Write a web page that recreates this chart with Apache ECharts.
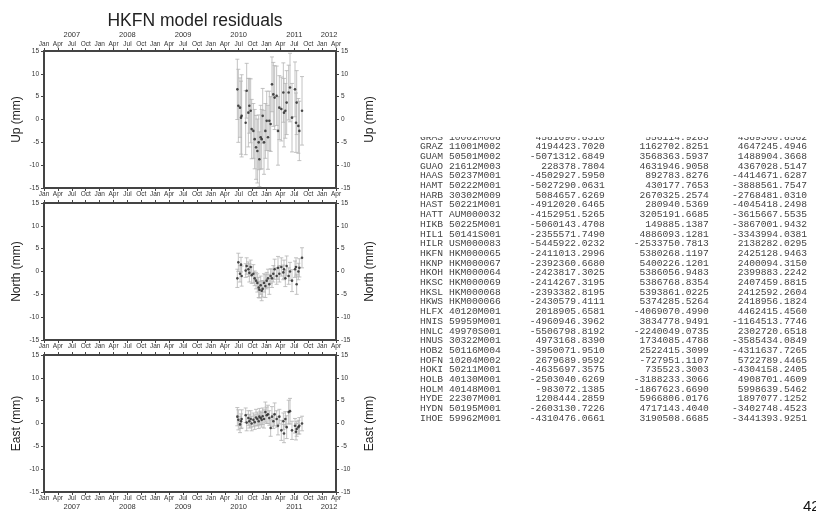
<!DOCTYPE html>
<html>
<head>
<meta charset="utf-8">
<script src="https://cdn.jsdelivr.net/npm/echarts@6/dist/echarts.min.js"></script>
<style>
  html, body { margin: 0; background: #fff; }
  #main { width: 816px; height: 512px; }
</style>
</head>
<body>
<div id="main"></div>
<script>
// epochs in decimal years
const epochs = [2010.476, 2010.494, 2010.524, 2010.542, 2010.554, 2010.626, 2010.644, 2010.674,
  2010.692, 2010.716, 2010.734, 2010.764, 2010.788, 2010.812, 2010.836, 2010.860, 2010.872,
  2010.896, 2010.914, 2010.932, 2010.956, 2010.980, 2011.004, 2011.027, 2011.051, 2011.075,
  2011.099, 2011.123, 2011.147, 2011.183, 2011.207, 2011.231, 2011.267, 2011.303, 2011.315,
  2011.339, 2011.363, 2011.399, 2011.423, 2011.459, 2011.513, 2011.531, 2011.543, 2011.573,
  2011.591, 2011.639];

const upVals = [6.6, 3.0, 2.6, 0.4, 0.8, -0.7, 6.3, 1.5, 3.0, 1.9, -2.1, -2.5, -4.3, -6.1, -6.9,
  -5.0, -8.7, -3.9, -4.3, 0.8, -5.0, -2.5, -0.3, -3.9, -0.3, -1.0, 7.7, 5.5, 4.8, 5.2, -2.5,
  2.6, 2.3, 5.9, 1.5, 1.9, 3.7, 5.9, 7.0, 0.4, 6.6, -0.7, 3.7, -1.4, -2.5, 1.9];
const upErr = [6.6, 8.0, 6.5, 8.0, 9.0, 7.0, 6.0, 7.5, 6.0, 7.0, 6.5, 6.0, 6.5, 7.0, 7.0, 6.0,
  6.0, 7.0, 6.5, 6.0, 7.0, 6.0, 6.5, 7.0, 6.5, 6.0, 6.0, 7.0, 7.0, 6.5, 7.5, 7.0, 7.0, 6.5,
  7.5, 6.0, 7.0, 6.0, 7.5, 7.5, 6.0, 6.5, 7.0, 6.0, 6.5, 7.5];

const northVals = [-1.5, 2.0, -0.5, 1.5, -1.0, 0.2, 1.2, 0.5, -0.3, 1.0, -0.8, -0.5, -1.5, -2.0,
  -2.5, -3.5, -4.0, -3.0, -4.2, -3.8, -2.5, -3.2, -2.0, -1.5, -2.8, -1.0, -1.5, -0.5, 0.5, -1.0,
  0.8, -0.5, 1.0, -0.2, 0.5, -1.5, 1.2, -1.0, 0.0, -2.0, 0.5, 1.0, -2.8, 0.0, 0.8, 3.0];
const northErr = [2.0, 2.0, 1.8, 1.6, 2.2, 1.5, 1.8, 1.6, 2.0, 1.5, 1.8, 2.0, 1.6, 1.8, 2.0, 2.2,
  1.8, 2.0, 2.2, 1.8, 2.0, 2.5, 1.8, 2.0, 2.2, 1.6, 2.0, 1.8, 2.2, 1.8, 2.5, 1.8, 2.0, 1.6, 2.0,
  1.8, 2.2, 1.8, 2.0, 2.4, 1.8, 2.0, 2.2, 1.8, 2.0, 2.2];

const eastVals = [1.5, 0.8, -0.2, 0.5, 1.0, 1.8, 0.2, 1.2, 0.5, 1.0, 0.0, 0.8, 0.3, 1.3, 1.0, 0.5,
  1.5, 1.2, 0.8, 1.6, 1.0, 2.5, 1.8, 2.0, 1.2, -1.0, 1.5, 0.5, 2.0, 1.0, -0.5, 1.5, -1.5, 0.5,
  -2.2, 1.0, -0.8, 2.5, 2.7, -1.5, -0.5, -1.8, -1.2, -0.8, -0.5, 0.0];
const eastErr = [2.0, 2.2, 1.8, 1.6, 2.0, 1.6, 1.8, 1.6, 1.5, 1.8, 1.6, 1.5, 1.6, 1.8, 1.5, 1.6,
  1.8, 1.5, 1.6, 1.8, 2.0, 2.2, 1.8, 2.0, 1.6, 1.8, 2.2, 1.6, 2.5, 1.8, 2.0, 1.6, 2.2, 1.8, 2.0,
  1.6, 2.5, 2.6, 2.8, 2.0, 1.6, 1.8, 1.6, 1.5, 1.8, 1.6];

const monthNames = ['Jan', 'Apr', 'Jul', 'Oct'];
const yTicks = [-15, 15, 5]; // min, max, step
const compNames = ['Up (mm)', 'North (mm)', 'East (mm)'];

// station table (name, DOMES, X, Y, Z)
const stations = [
  ['GRAS', '10002M006', '4581690.8310', '556114.9283', '4389360.8562'],
  ['GRAZ', '11001M002', '4194423.7020', '1162702.8251', '4647245.4946'],
  ['GUAM', '50501M002', '-5071312.6849', '3568363.5937', '1488904.3668'],
  ['GUAO', '21612M003', '228378.7804', '4631946.9058', '4367028.5147'],
  ['HAAS', '50237M001', '-4502927.5950', '892783.8276', '-4414671.6287'],
  ['HAMT', '50222M001', '-5027290.0631', '430177.7653', '-3888561.7547'],
  ['HARB', '30302M009', '5084657.6269', '2670325.2574', '-2768481.0310'],
  ['HAST', '50221M001', '-4912020.6465', '280940.5369', '-4045418.2498'],
  ['HATT', 'AUM000032', '-4152951.5265', '3205191.6685', '-3615667.5535'],
  ['HIKB', '50225M001', '-5060143.4708', '149885.1387', '-3867001.9432'],
  ['HIL1', '50141S001', '-2355571.7490', '4886093.1281', '-3343994.0381'],
  ['HILR', 'USM000083', '-5445922.0232', '-2533750.7813', '2138282.0295'],
  ['HKFN', 'HKM000065', '-2411013.2996', '5380268.1197', '2425128.9463'],
  ['HKNP', 'HKM000067', '-2392360.6680', '5400226.1201', '2400094.3150'],
  ['HKOH', 'HKM000064', '-2423817.3025', '5386056.9483', '2399883.2242'],
  ['HKSC', 'HKM000069', '-2414267.3195', '5386768.8354', '2407459.8815'],
  ['HKSL', 'HKM000068', '-2393382.8195', '5393861.0225', '2412592.2604'],
  ['HKWS', 'HKM000066', '-2430579.4111', '5374285.5264', '2418956.1824'],
  ['HLFX', '40120M001', '2018905.6581', '-4069070.4990', '4462415.4560'],
  ['HNIS', '59959M001', '-4960946.3962', '3834778.9491', '-1164513.7746'],
  ['HNLC', '49970S001', '-5506798.8192', '-2240049.0735', '2302720.6518'],
  ['HNUS', '30322M001', '4973168.8390', '1734085.4788', '-3585434.0849'],
  ['HOB2', '50116M004', '-3950071.9510', '2522415.3099', '-4311637.7265'],
  ['HOFN', '10204M002', '2679689.9592', '-727951.1107', '5722789.4465'],
  ['HOKI', '50211M001', '-4635697.3575', '735523.3003', '-4304158.2405'],
  ['HOLB', '40130M001', '-2503040.6269', '-3188233.3066', '4908701.4609'],
  ['HOLM', '40148M001', '-983072.1385', '-1867623.6690', '5998639.5462'],
  ['HYDE', '22307M001', '1208444.2859', '5966806.0176', '1897077.1252'],
  ['HYDN', '50195M001', '-2603130.7226', '4717143.4040', '-3402748.4523'],
  ['IHOE', '59962M001', '-4310476.0661', '3190508.6685', '-3441393.9251']
];

const chart = echarts.init(document.getElementById('main'));

const FONT = 'Liberation Sans, Arial, sans-serif';
const AXIS_COLOR = '#444';
const X_MIN = 2007, X_MAX = 2012.25;
const gridTops = [51, 203, 355];
const gridH = 137;

const monthFmt = v => monthNames[Math.round(v * 4) % 4];
const yearFmt = v => {
  const k = Math.round(v * 8), yr = Math.floor(k / 8), r = k % 8;
  if (yr < 2012 && r === 4) return String(yr);
  if (yr === 2012 && r === 1) return '2012';
  return '';
};

function xAxis(grid, pos, opts) {
  return Object.assign({
    type: 'value', gridIndex: grid, position: pos,
    min: X_MIN, max: X_MAX, interval: 0.25,
    axisLine: { onZero: false, lineStyle: { color: AXIS_COLOR, width: 2 } },
    axisTick: { show: true, length: 3, lineStyle: { color: AXIS_COLOR } },
    axisLabel: { show: true, formatter: monthFmt, fontSize: 6.5, color: '#333', margin: 3, fontFamily: FONT },
    splitLine: { show: false }
  }, opts);
}
function yearAxis(grid, pos, offset) {
  return {
    type: 'value', gridIndex: grid, position: pos, offset: offset,
    min: X_MIN, max: X_MAX, interval: 0.125,
    axisLine: { show: false }, axisTick: { show: false }, splitLine: { show: false },
    axisLabel: { formatter: yearFmt, fontSize: 7.5, color: '#333', margin: 3, fontFamily: FONT,
      showMinLabel: true, showMaxLabel: true }
  };
}

const xAxes = [
  xAxis(0, 'bottom'),                                   // 0: data axis grid 0
  xAxis(0, 'top'),                                      // 1
  yearAxis(0, 'top', 9),                                // 2
  xAxis(1, 'bottom'),                                   // 3: data axis grid 1
  xAxis(1, 'top', { axisLabel: { show: false } }),      // 4
  xAxis(2, 'bottom'),                                   // 5: data axis grid 2
  xAxis(2, 'top', { axisLabel: { show: false } }),      // 6
  yearAxis(2, 'bottom', 8)                              // 7
];
const dataX = [0, 3, 5];

const yAxes = [];
[0, 1, 2].forEach(g => {
  ['left', 'right'].forEach(pos => {
    yAxes.push({
      type: 'value', gridIndex: g, position: pos,
      min: yTicks[0], max: yTicks[1], interval: yTicks[2],
      name: compNames[g], nameLocation: 'middle', nameGap: pos === 'left' ? 21 : 28,
      nameTextStyle: { fontSize: 12, color: '#222', fontFamily: FONT },
      axisLine: { show: true, onZero: false, lineStyle: { color: AXIS_COLOR, width: 2 } },
      axisTick: { show: true, length: 3, lineStyle: { color: AXIS_COLOR } },
      axisLabel: { fontSize: 6.5, color: '#333', margin: 5, fontFamily: FONT },
      splitLine: { show: false }
    });
  });
});

function errorSeries(g, vals, errs) {
  return {
    type: 'custom', xAxisIndex: dataX[g], yAxisIndex: g * 2, silent: true, z: 2,
    data: epochs.map((t, i) => [t, vals[i] - errs[i], vals[i] + errs[i]]),
    encode: { x: 0, y: [1, 2] },
    renderItem: (params, api) => {
      const lo = api.coord([api.value(0), api.value(1)]);
      const hi = api.coord([api.value(0), api.value(2)]);
      const w = 2, st = { stroke: '#b4b4b4', lineWidth: 0.8 };
      return {
        type: 'group', children: [
          { type: 'line', shape: { x1: lo[0], y1: lo[1], x2: hi[0], y2: hi[1] }, style: st },
          { type: 'line', shape: { x1: lo[0] - w, y1: lo[1], x2: lo[0] + w, y2: lo[1] }, style: st },
          { type: 'line', shape: { x1: hi[0] - w, y1: hi[1], x2: hi[0] + w, y2: hi[1] }, style: st }
        ]
      };
    }
  };
}
function pointSeries(g, vals) {
  return {
    type: 'scatter', xAxisIndex: dataX[g], yAxisIndex: g * 2, silent: true, z: 3,
    symbol: 'circle', symbolSize: 2.6,
    itemStyle: { color: '#222' },
    data: epochs.map((t, i) => [t, vals[i]])
  };
}

const pad = (s, n) => s.padStart(n, ' ');
const tableText = stations.map(r => r[0] + ' ' + r[1] + pad(r[2], 18) + pad(r[3], 18) + pad(r[4], 17)).join('\n');

chart.setOption({
  animation: false,
  backgroundColor: '#fff',
  title: {
    text: 'HKFN model residuals', left: 190, top: 7, textAlign: 'center',
    textStyle: { fontSize: 17.5, fontWeight: 'normal', color: '#222', fontFamily: FONT }
  },
  grid: gridTops.map(t => ({ left: 44, width: 292, top: t, height: gridH, containLabel: false })),
  xAxis: xAxes,
  yAxis: yAxes,
  series: [
    errorSeries(0, upVals, upErr), pointSeries(0, upVals),
    errorSeries(1, northVals, northErr), pointSeries(1, northVals),
    errorSeries(2, eastVals, eastErr), pointSeries(2, eastVals)
  ],
  graphic: [
    {
      type: 'text', left: 420, top: 132, z: 10,
      style: { text: tableText, font: '9.65px "Liberation Mono", "Courier New", monospace',
        fill: '#444', lineHeight: 9.7 }
    },
    { type: 'rect', left: 415, top: 120, z: 11, shape: { width: 400, height: 17 }, style: { fill: '#fff' } },
    {
      type: 'text', left: 803, top: 499, z: 10,
      style: { text: '42', font: '15px "Liberation Sans", Arial, sans-serif', fill: '#111' }
    }
  ]
});
</script>
</body>
</html>
